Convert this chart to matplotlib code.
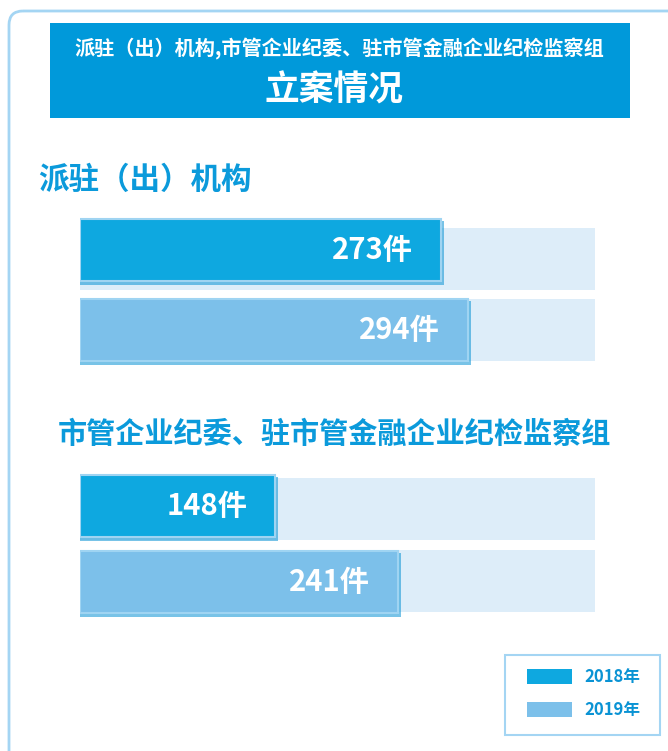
import matplotlib as mpl
mpl.use('Agg')
import matplotlib.pyplot as plt
from matplotlib.patches import FancyBboxPatch, Rectangle

plt.rcParams['font.family'] = ['Noto Sans CJK SC', 'DejaVu Sans']

# data
title_line1 = '派驻（出）机构,市管企业纪委、驻市管金融企业纪检监察组'
title_line2 = '立案情况'
groups = ['派驻（出）机构', '市管企业纪委、驻市管金融企业纪检监察组']
years = ['2018年', '2019年']
values_2018 = [273, 148]
values_2019 = [294, 241]
unit = '件'
track_max = 390

c2018 = '#0ea8e0'
c2019 = '#7cc0ea'
c_track = '#ddedf9'
c_title = '#0b9adb'
c_head = '#0099da'
c_shadow = '#0a93d4'

W, H = 668, 751
fig = plt.figure(figsize=(W / 100, H / 100), dpi=100)
fig.patch.set_facecolor('white')

# background axes in pixel coords
bg = fig.add_axes([0, 0, 1, 1])
bg.set_xlim(0, W)
bg.set_ylim(H, 0)
bg.axis('off')

# outer rounded frame
bg.add_patch(FancyBboxPatch((9, 11), 700, 780, boxstyle='round,pad=0,rounding_size=14',
                            fc='none', ec='#a4d5f3', lw=2))

# header box
bg.add_patch(Rectangle((50, 23), 580, 95, fc=c_head, ec='none'))
bg.text(339, 49, title_line1, color='white', fontsize=14.5, fontweight='bold',
        ha='center', va='center')
bg.text(334, 90, title_line2, color='white', fontsize=25, fontweight='heavy',
        ha='center', va='center')

# section titles
bg.text(38, 180, groups[0], color=c_title, fontsize=22, fontweight='heavy',
        ha='left', va='center')
bg.text(58, 434, groups[1], color=c_title, fontsize=21, fontweight='heavy',
        ha='left', va='center')

# legend
bg.add_patch(Rectangle((505, 655), 155, 80, fc='white', ec='#a4d5f3', lw=1.5))
bg.add_patch(Rectangle((527, 669), 45, 15, fc=c2018, ec='none'))
bg.add_patch(Rectangle((527, 702), 45, 15, fc=c2019, ec='none'))
bg.text(584, 677, years[0], color=c_shadow, fontsize=12, fontweight='bold',
        ha='left', va='center')
bg.text(584, 710, years[1], color=c_shadow, fontsize=12, fontweight='bold',
        ha='left', va='center')

# bar axes: x in data units, y in pixels
x0, x1 = 80, 595
y0, y1 = 200, 640
ax = fig.add_axes([x0 / W, 1 - y1 / H, (x1 - x0) / W, (y1 - y0) / H])
ax.set_xlim(0, track_max)
ax.set_ylim(y1, y0)
ax.axis('off')

bar_centers = [[250, 506], [330, 582]]   # [2018 row, 2019 row] for each group
track_centers = [[259, 509], [330, 581]]
bar_h = 62

series = [values_2018, values_2019]
colors = [c2018, c2019]
px_per_unit = (x1 - x0) / track_max

for s, (vals, col) in enumerate(zip(series, colors)):
    for g, v in enumerate(vals):
        yc = bar_centers[s][g]
        ax.barh(track_centers[s][g], track_max, height=bar_h, color=c_track, zorder=1)
        # shadow / glow
        ax.barh(yc + 3, v + 3 / px_per_unit, height=bar_h + 2, color=c_shadow,
                alpha=0.55, zorder=2)
        ax.barh(yc, v, height=bar_h, color=col, edgecolor='#9fd4f2',
                linewidth=1.5, zorder=3)
        ax.text(v - 28 / px_per_unit, yc, f'{v}{unit}', color='white',
                fontsize=21, fontweight='heavy', ha='right', va='center', zorder=4)

fig.savefig('out.png', dpi=100)
